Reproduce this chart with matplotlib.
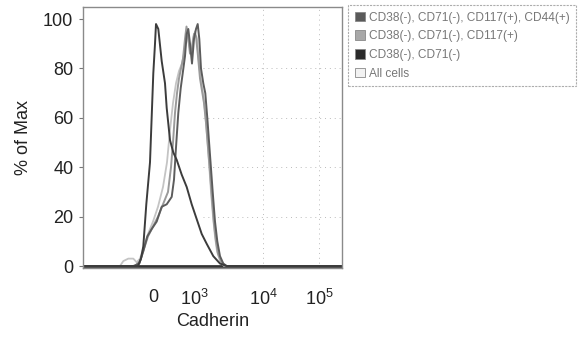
import matplotlib
matplotlib.use("Agg")
import matplotlib.pyplot as plt
from matplotlib.patches import Patch

plt.rcParams['font.family'] = ['Liberation Sans', 'DejaVu Sans']
plt.rcParams['mathtext.fontset'] = 'custom'
plt.rcParams['mathtext.rm'] = 'Liberation Sans'
plt.rcParams['mathtext.it'] = 'Liberation Sans'

# x positions in display units of the biexponential axis (0 at the "0" tick)
tick_pos = [0, 41, 110, 166]
tick_labels = ["0", "$10^3$", "$10^4$", "$10^5$"]
y_ticks = [0, 20, 40, 60, 80, 100]

legend_labels = ["CD38(-), CD71(-), CD117(+), CD44(+)",
                 "CD38(-), CD71(-), CD117(+)",
                 "CD38(-), CD71(-)",
                 "All cells"]

# CD38(-), CD71(-), CD117(+), CD44(+)
x_a = [-70, -19.7, -13.7, -9.7, -5.7, -1.3, 3.7, 8.7, 13.7, 18.7, 21, 23, 25.3, 27.7, 29.7,
       32, 33.7, 35.3, 37, 39, 41, 43, 44.7, 46.3, 48, 50.3, 52.3, 54.3, 57, 59.7, 62,
       64.3, 67, 70.3, 73.7, 189]
y_a = [0, 0, 1, 6, 12, 15, 18, 24, 25, 28, 35, 48, 62, 72, 78,
       85, 94, 96, 90, 82, 92, 96, 98, 92, 80, 74, 70, 60, 45, 30, 18,
       10, 4, 1, 0, 0]

# CD38(-), CD71(-), CD117(+)
x_b = [-70, -18, -13, -9, -5, 0, 5, 10, 15, 18, 20, 22, 24, 26, 28, 30, 32, 33.5, 35,
       37, 39, 41, 43, 45, 47, 49, 51, 53, 55, 57, 59, 61, 63, 65, 68, 72, 189]
y_b = [0, 0, 2, 7, 12, 16, 20, 25, 30, 40, 50, 62, 70, 76, 80, 84, 92, 97, 93,
       86, 88, 94, 93, 85, 76, 71, 66, 58, 48, 38, 27, 17, 10, 5, 2, 0, 0]

# CD38(-), CD71(-)
x_c = [-70, -15, -12, -9.7, -6.7, -3, 0.3, 2, 3, 5.3, 8.7, 12, 13.7, 17, 20.3, 23.7,
       28.7, 33.7, 38.7, 43.7, 48.7, 53.7, 60.3, 67, 73.7, 189]
y_c = [0, 0, 3, 8, 25, 42, 78, 90, 98, 96, 83, 74, 64, 51, 46, 43,
       37, 32, 25, 19, 13, 9, 4, 1, 0, 0]

# All cells
x_d = [-70, -33, -29.7, -24.7, -19.7, -16.3, -13, -9, -5, 0, 5, 10, 14, 17, 20, 23, 26,
       29, 32, 34, 36, 38, 40, 42, 44, 46, 48, 50, 52, 54, 56, 58, 60, 62, 64, 67, 71, 189]
y_d = [0, 0, 2, 3, 3, 1.5, 3, 8, 13, 18, 24, 32, 42, 55, 66, 74, 79,
       82, 88, 95, 90, 86, 92, 95, 92, 82, 75, 70, 63, 53, 42, 30, 20, 12, 6, 2, 0, 0]

patch_colors = ["#5a5a5a", "#a8a8a8", "#2a2a2a", "#f2f2f2"]
line_colors = ["#5c5c5c", "#9a9a9a", "#3c3c3c", "#c4c4c4"]

fig = plt.figure(figsize=(5.8, 3.4), dpi=100)
ax = fig.add_axes([83/580, 1 - 268/340, (342-83)/580, (268-7)/340])

for xs, ys, c, lw in [(x_d, y_d, line_colors[3], 1.3),
                      (x_b, y_b, line_colors[1], 1.4),
                      (x_a, y_a, line_colors[0], 1.4),
                      (x_c, y_c, line_colors[2], 1.4)]:
    ax.plot(xs, ys, color=c, lw=lw)

ax.axhline(0, color="#333333", lw=2.0, zorder=0.5)

ax.set_xlim(-70, 189)
ax.set_ylim(-0.8, 104.9)

for yv in [20, 40, 60, 80]:
    ax.plot([50, 189], [yv, yv], color="#bbbbbb", lw=0.7, ls=(0, (1, 4)), zorder=0.2)
for xv in [110, 166]:
    ax.axvline(xv, color="#bbbbbb", lw=0.7, ls=(0, (1, 4)), zorder=0.2)

ax.set_xticks(tick_pos)
ax.set_xticklabels(tick_labels, fontsize=13)
ax.set_yticks(y_ticks)
ax.set_yticklabels([str(v) for v in y_ticks], fontsize=13)
ax.tick_params(axis='x', length=0, pad=15, colors='#222222')
ax.tick_params(axis='y', length=3, width=0.8, pad=4, colors='#222222', color='#777777')

for s in ax.spines.values():
    s.set_color('#8a8a8a')
    s.set_linewidth(1.0)
    s.set_linestyle((0, (2, 1)))

ax.set_ylabel("% of Max", fontsize=13, labelpad=8, color='#222222')
ax.set_xlabel("Cadherin", fontsize=13, labelpad=3, color='#222222')

handles = [Patch(facecolor=patch_colors[i], edgecolor='#888888', linewidth=0.6, label=legend_labels[i])
           for i in range(4)]
leg = fig.legend(handles=handles, loc='upper left', bbox_to_anchor=(348/580, 1 - 5/340),
                 fontsize=8.6, frameon=True, handlelength=0.9, handleheight=0.9,
                 handletextpad=0.3, labelspacing=0.55, borderpad=0.55, fancybox=False,
                 borderaxespad=0)
leg.get_frame().set_edgecolor('#999999')
leg.get_frame().set_linewidth(0.8)
leg.get_frame().set_linestyle((0, (2, 1)))
for t in leg.get_texts():
    t.set_color('#777777')

fig.savefig("out.png", dpi=100)
